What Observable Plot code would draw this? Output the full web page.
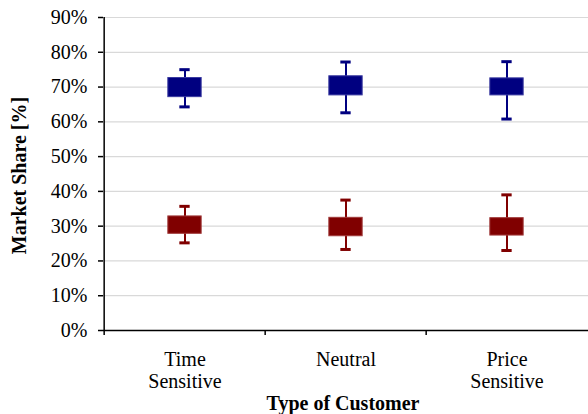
<!DOCTYPE html>
<html>
<head>
<meta charset="utf-8">
<script src="https://cdn.jsdelivr.net/npm/d3@7"></script>
<script src="https://cdn.jsdelivr.net/npm/@observablehq/plot@0.6"></script>
<style>
  html, body { margin: 0; padding: 0; background: #fff; }
</style>
</head>
<body>
<div id="chart"></div>
<script>
// Data
const categories = ["Time Sensitive", "Neutral", "Price Sensitive"];
const categoryLabels = ["Time\nSensitive", "Neutral", "Price\nSensitive"];
const yTicks = [0, 0.1, 0.2, 0.3, 0.4, 0.5, 0.6, 0.7, 0.8, 0.9];

const blueMin = [0.643, 0.626, 0.608];
const blueQ1  = [0.671, 0.676, 0.676];
const blueQ3  = [0.726, 0.731, 0.725];
const blueMax = [0.750, 0.772, 0.773];

const redMin = [0.252, 0.233, 0.230];
const redQ1  = [0.278, 0.271, 0.273];
const redQ3  = [0.328, 0.324, 0.323];
const redMax = [0.357, 0.375, 0.390];

const rows = [];
categories.forEach((c, i) => {
  rows.push({cat: c, series: "blue", min: blueMin[i], q1: blueQ1[i], q3: blueQ3[i], max: blueMax[i]});
  rows.push({cat: c, series: "red", min: redMin[i], q1: redQ1[i], q3: redQ3[i], max: redMax[i]});
});

const fillColor = {blue: "#000080", red: "#800000"};
const edgeColor = {blue: "#3a3aa0", red: "#a03a3a"};

const W = 588, H = 414, mL = 103, mR = 0, mT = 17, mB = 84;
const bw = (W - mL - mR) / categories.length;
const labelOf = new Map(categories.map((c, i) => [c, categoryLabels[i]]));

const chart = Plot.plot({
  width: W,
  height: H,
  marginLeft: mL,
  marginRight: mR,
  marginTop: mT,
  marginBottom: mB,
  style: {fontFamily: "'Liberation Serif', 'Times New Roman', serif", fontSize: "20px", color: "#000", background: "#fff", overflow: "visible"},
  x: {domain: categories, padding: 0},
  y: {domain: [0, 0.9]},
  marks: [
    Plot.gridY(yTicks, {stroke: "#d9d9d9", strokeOpacity: 1, strokeWidth: 1.2}),
    // category boundary ticks
    Plot.ruleX(categories, {x: d => d, dx: -bw / 2, y1: 0, y2: 0, insetBottom: -5, stroke: "#000", strokeWidth: 1.5}),
    Plot.axisY({ticks: yTicks, tickFormat: d3.format(".0%"), tickSize: 5, tickPadding: 11, label: null, stroke: "#000", strokeWidth: 1.5, fontSize: 20}),
    Plot.axisX({tickSize: 0, tickPadding: 20, label: null, tickFormat: d => labelOf.get(d), lineHeight: 1.1, fontSize: 20}),
    Plot.ruleY([0], {stroke: "#000", strokeWidth: 1.5}),
    Plot.ruleX(categories.slice(0, 1), {x: d => d, dx: -bw / 2, stroke: "#000", strokeWidth: 1.5}),
    // whiskers
    Plot.ruleX(rows, {x: "cat", y1: "min", y2: "max", stroke: d => fillColor[d.series], strokeWidth: 2}),
    Plot.tickY(rows, {x: "cat", y: "max", stroke: d => fillColor[d.series], strokeWidth: 3, insetLeft: (bw - 11) / 2, insetRight: (bw - 11) / 2}),
    Plot.tickY(rows, {x: "cat", y: "min", stroke: d => fillColor[d.series], strokeWidth: 3, insetLeft: (bw - 11) / 2, insetRight: (bw - 11) / 2}),
    // boxes
    Plot.barY(rows, {x: "cat", y1: "q1", y2: "q3", fill: d => fillColor[d.series], stroke: d => edgeColor[d.series], strokeWidth: 1, insetLeft: (bw - 34) / 2, insetRight: (bw - 34) / 2}),
    // axis titles
    Plot.text(["Market Share [%]"], {frameAnchor: "left", textAnchor: "middle", rotate: -90, dx: -84, dy: 1.5, fontWeight: "bold", fontSize: 20, fill: "#000"}),
    Plot.text(["Type of Customer"], {frameAnchor: "bottom", textAnchor: "middle", dx: -3, dy: 79, fontWeight: "bold", fontSize: 20, fill: "#000"})
  ]
});
document.getElementById("chart").appendChild(chart);
</script>
</body>
</html>
